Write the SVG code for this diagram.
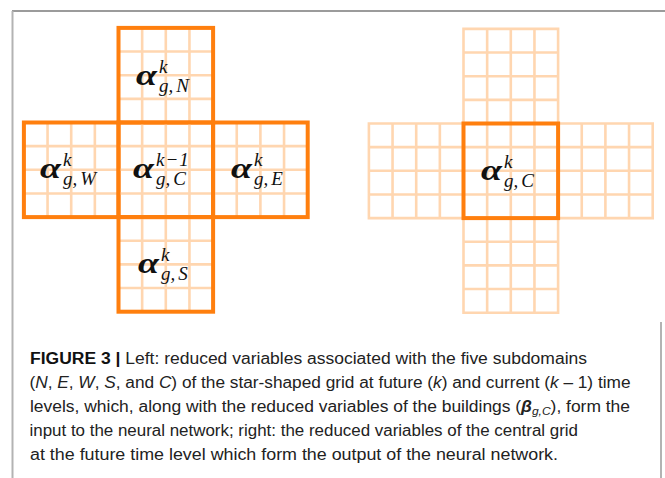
<svg xmlns="http://www.w3.org/2000/svg" width="665" height="478" viewBox="0 0 665 478">
<style>
.lt{stroke:#ffd6b0;stroke-width:2.6;fill:none;stroke-linecap:square}
.tk{stroke:#ff7f0e;stroke-width:4;fill:none;stroke-linejoin:miter}
.al{font-family:"Liberation Serif",serif;font-weight:bold;font-style:italic;font-size:29px;fill:#111}
.sc{font-family:"Liberation Serif",serif;font-style:italic;font-size:19px;fill:#111}
.cap{font-family:"Liberation Sans",Arial,sans-serif;font-size:16px;fill:#222}
</style>
<rect width="665" height="478" fill="#fff"/>
<g id="frame">
<line x1="12" y1="11" x2="665" y2="11" stroke="#7a7a7a" stroke-width="1.5"/>
<line x1="12.5" y1="11" x2="12.5" y2="478" stroke="#b3b3b3" stroke-width="2"/>
<line x1="661" y1="322" x2="661" y2="478" stroke="#9a9a9a" stroke-width="1.5"/>
</g>
<g id="left-grid">
<g id="box-N">
<path class="lt" d="M142.15 27.9V122.5M165.8 27.9V122.5M189.45 27.9V122.5M118.5 51.55H213.1M118.5 75.2H213.1M118.5 98.85H213.1"/>
<rect class="tk" x="118.5" y="27.9" width="94.6" height="94.6"/>
<text class="al" x="136" y="85" textLength="21" lengthAdjust="spacingAndGlyphs">α</text><text class="sc" x="159" y="73">k</text><text class="sc" x="159" y="92">g,<tspan dx="3">N</tspan></text>
</g>
<g id="box-W">
<path class="lt" d="M47.55 122.5V217.1M71.2 122.5V217.1M94.85 122.5V217.1M23.9 146.15H118.5M23.9 169.8H118.5M23.9 193.45H118.5"/>
<rect class="tk" x="23.9" y="122.5" width="94.6" height="94.6"/>
<text class="al" x="40" y="178" textLength="21" lengthAdjust="spacingAndGlyphs">α</text><text class="sc" x="63" y="166">k</text><text class="sc" x="63" y="185">g,<tspan dx="3">W</tspan></text>
</g>
<g id="box-C">
<path class="lt" d="M142.15 122.5V217.1M165.8 122.5V217.1M189.45 122.5V217.1M118.5 146.15H213.1M118.5 169.8H213.1M118.5 193.45H213.1"/>
<rect class="tk" x="118.5" y="122.5" width="94.6" height="94.6"/>
<text class="al" x="133" y="178" textLength="21" lengthAdjust="spacingAndGlyphs">α</text><text class="sc" x="156" y="166">k<tspan dx="1">−</tspan><tspan dx="1">1</tspan></text><text class="sc" x="156" y="185">g,<tspan dx="3">C</tspan></text>
</g>
<g id="box-E">
<path class="lt" d="M236.75 122.5V217.1M260.4 122.5V217.1M284.05 122.5V217.1M213.1 146.15H307.7M213.1 169.8H307.7M213.1 193.45H307.7"/>
<rect class="tk" x="213.1" y="122.5" width="94.6" height="94.6"/>
<text class="al" x="231" y="178" textLength="21" lengthAdjust="spacingAndGlyphs">α</text><text class="sc" x="254" y="166">k</text><text class="sc" x="254" y="185">g,<tspan dx="3">E</tspan></text>
</g>
<g id="box-S">
<path class="lt" d="M142.15 217.1V311.7M165.8 217.1V311.7M189.45 217.1V311.7M118.5 240.75H213.1M118.5 264.4H213.1M118.5 288.05H213.1"/>
<rect class="tk" x="118.5" y="217.1" width="94.6" height="94.6"/>
<text class="al" x="138" y="273" textLength="21" lengthAdjust="spacingAndGlyphs">α</text><text class="sc" x="161" y="261">k</text><text class="sc" x="161" y="280">g,<tspan dx="3">S</tspan></text>
</g>
</g>
<g id="right-grid">
<g id="grid-lines">
<path class="lt" d="M463.5 28.9V312.7M487.15 28.9V312.7M510.8 28.9V312.7M534.45 28.9V312.7M558.1 28.9V312.7
M368.9 123.5V218.1M392.55 123.5V218.1M416.2 123.5V218.1M439.85 123.5V218.1M581.75 123.5V218.1M605.4 123.5V218.1M629.05 123.5V218.1M652.7 123.5V218.1
M368.9 123.5H652.7M368.9 147.15H652.7M368.9 170.8H652.7M368.9 194.45H652.7M368.9 218.1H652.7
M463.5 28.9H558.1M463.5 52.55H558.1M463.5 76.2H558.1M463.5 99.85H558.1M463.5 241.75H558.1M463.5 265.4H558.1M463.5 289.05H558.1M463.5 312.7H558.1"/>
</g>
<g id="box-C-out">
<rect class="tk" x="463.5" y="123.5" width="94.6" height="94.6"/>
<text class="al" x="481" y="180" textLength="21" lengthAdjust="spacingAndGlyphs">α</text><text class="sc" x="504" y="168">k</text><text class="sc" x="504" y="187">g,<tspan dx="3">C</tspan></text>
</g>
</g>
<g id="caption">
<text class="cap" x="30" y="364" textLength="557" lengthAdjust="spacingAndGlyphs"><tspan font-weight="bold" fill="#111">FIGURE 3 |</tspan> Left: reduced variables associated with the five subdomains</text>
<text class="cap" x="29.5" y="388" textLength="601" lengthAdjust="spacingAndGlyphs">(<tspan font-style="italic">N</tspan>, <tspan font-style="italic">E</tspan>, <tspan font-style="italic">W</tspan>, <tspan font-style="italic">S</tspan>, and <tspan font-style="italic">C</tspan>) of the star-shaped grid at future (<tspan font-style="italic">k</tspan>) and current (<tspan font-style="italic">k</tspan> – 1) time</text>
<text class="cap" x="30" y="412" textLength="600" lengthAdjust="spacingAndGlyphs">levels, which, along with the reduced variables of the buildings (<tspan font-weight="bold" font-style="italic">β</tspan><tspan font-style="italic" font-size="11px" dy="3">g,C</tspan><tspan dy="-3">), form the</tspan></text>
<text class="cap" x="29.5" y="436" textLength="548.5" lengthAdjust="spacingAndGlyphs">input to the neural network; right: the reduced variables of the central grid</text>
<text class="cap" x="30" y="460" textLength="528" lengthAdjust="spacingAndGlyphs">at the future time level which form the output of the neural network.</text>
</g>
</svg>
